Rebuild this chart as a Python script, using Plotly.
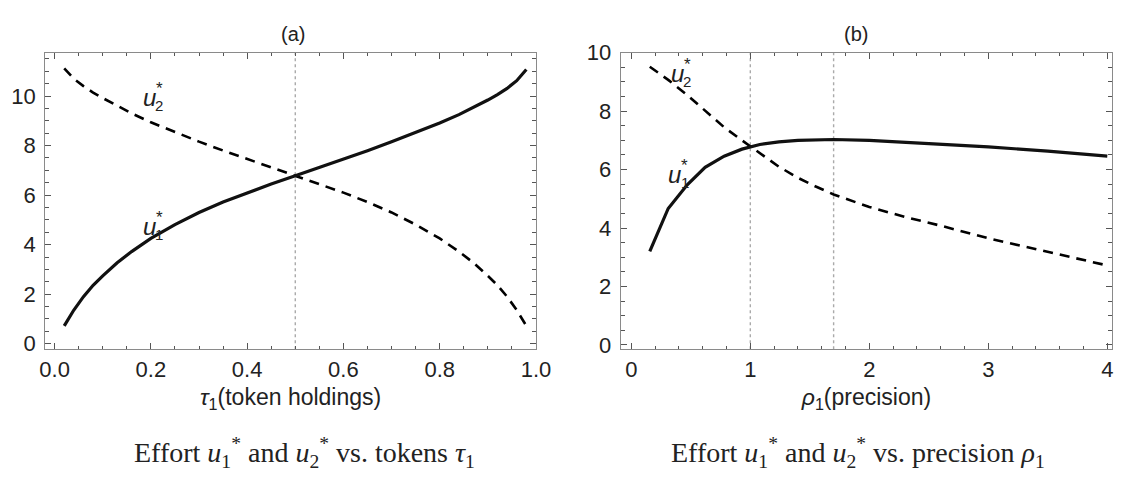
import plotly.graph_objects as go

# ---------------- data ----------------
tau = [0.02, 0.04, 0.06, 0.08, 0.10, 0.13, 0.16, 0.20, 0.25, 0.30, 0.35, 0.40, 0.45,
       0.50, 0.55, 0.60, 0.65, 0.70, 0.75, 0.80, 0.84, 0.87, 0.90, 0.92, 0.94, 0.96, 0.98]
u1_tau = [0.72, 1.36, 1.90, 2.36, 2.74, 3.27, 3.72, 4.25, 4.81, 5.30, 5.72, 6.10, 6.45,
          6.78, 7.11, 7.45, 7.79, 8.15, 8.52, 8.91, 9.25, 9.53, 9.84, 10.06, 10.31, 10.62, 11.07]
u2_tau = [11.12, 10.70, 10.40, 10.14, 9.92, 9.60, 9.30, 8.94, 8.54, 8.16, 7.80, 7.46, 7.12,
          6.78, 6.45, 6.10, 5.72, 5.30, 4.81, 4.25, 3.72, 3.27, 2.74, 2.36, 1.90, 1.36, 0.72]

rho = [0.155, 0.31, 0.47, 0.62, 0.78, 0.93, 1.08, 1.24, 1.40, 1.55, 1.70, 2.0, 2.3, 2.6, 3.0, 3.5, 4.0]
u1_rho = [3.20, 4.67, 5.48, 6.08, 6.46, 6.70, 6.86, 6.95, 7.00, 7.02, 7.03, 7.00, 6.94, 6.88, 6.78, 6.63, 6.46]
u2_rho = [9.52, 9.07, 8.55, 8.02, 7.45, 7.00, 6.55, 6.10, 5.72, 5.42, 5.15, 4.72, 4.38, 4.08, 3.65, 3.18, 2.72]

vlines_a = [0.5]
vlines_b = [1.0, 1.7]

xticks_a = [0.0, 0.2, 0.4, 0.6, 0.8, 1.0]
xticklabels_a = ["0.0", "0.2", "0.4", "0.6", "0.8", "1.0"]
yticks_a = [0, 2, 4, 6, 8, 10]
xticks_b = [0, 1, 2, 3, 4]
yticks_b = [0, 2, 4, 6, 8, 10]

panel_titles = ["(a)", "(b)"]
xtitles = ["<i>τ</i><sub>1</sub>(token holdings)", "<i>ρ</i><sub>1</sub>(precision)"]
captions = ["Effort <i>u</i><sub>1</sub><sup>*</sup> and <i>u</i><sub>2</sub><sup>*</sup> vs. tokens <i>τ</i><sub>1</sub>",
            "Effort <i>u</i><sub>1</sub><sup>*</sup> and <i>u</i><sub>2</sub><sup>*</sup> vs. precision <i>ρ</i><sub>1</sub>"]

# curve label anchors (data coords): (panel, x, y, subscript)
curve_labels = [("a", 0.197, 9.94, "2"), ("a", 0.197, 4.75, "1"),
                ("b", 0.385, 9.30, "2"), ("b", 0.367, 5.82, "1")]

# ---------------- figure ----------------
fig = go.Figure()
SANS = "Liberation Sans, Arial, sans-serif"
SERIF = "Liberation Serif, Times New Roman, serif"

fig.add_trace(go.Scatter(x=tau, y=u2_tau, mode="lines", xaxis="x", yaxis="y",
                         line=dict(color="black", width=2.6, dash="10px,7px"), showlegend=False))
fig.add_trace(go.Scatter(x=tau, y=u1_tau, mode="lines", xaxis="x", yaxis="y",
                         line=dict(color="#111", width=3.2), showlegend=False))
fig.add_trace(go.Scatter(x=rho, y=u2_rho, mode="lines", xaxis="x2", yaxis="y2",
                         line=dict(color="black", width=2.6, dash="10px,7px"), showlegend=False))
fig.add_trace(go.Scatter(x=rho, y=u1_rho, mode="lines", xaxis="x2", yaxis="y2",
                         line=dict(color="#111", width=3.2), showlegend=False))

for xv in vlines_a:
    fig.add_shape(type="line", xref="x", yref="y domain", x0=xv, x1=xv, y0=0, y1=1.01,
                  line=dict(color="#aaaaaa", width=1.4, dash="dot"), layer="below")
for xv in vlines_b:
    fig.add_shape(type="line", xref="x2", yref="y2 domain", x0=xv, x1=xv, y0=0, y1=1.01,
                  line=dict(color="#aaaaaa", width=1.4, dash="dot"), layer="below")

W, H = 1130, 477
ydom = [(H - 352) / H, (H - 42.5) / H]

common = dict(showgrid=False, zeroline=False, showline=True, linecolor="#8a8a8a", linewidth=1.4,
              mirror="ticks", ticks="inside", ticklen=6, tickwidth=1.2, tickcolor="#555",
              tickfont=dict(family=SANS, size=22, color="#222"))

fig.update_layout(
    width=W, height=H, margin=dict(l=0, r=0, t=0, b=0),
    plot_bgcolor="white", paper_bgcolor="white",
    xaxis=dict(domain=[40 / W, 540 / W], range=[-0.0194, 1.0], tickvals=xticks_a, ticktext=xticklabels_a,
               minor=dict(dtick=0.05, tick0=0, ticklen=3.5, tickcolor="#555", ticks="inside"),
               title=dict(text=xtitles[0], font=dict(family=SANS, size=23, color="#222"), standoff=8),
               anchor="y", **common),
    yaxis=dict(domain=ydom, range=[-0.224, 11.75], tickvals=yticks_a,
               minor=dict(dtick=0.5, tick0=0, ticklen=3.5, tickcolor="#555", ticks="inside"),
               ticklabelstandoff=4, anchor="x", **common),
    xaxis2=dict(domain=[626.5 / W, 1127 / W], range=[-0.088, 4.04], tickvals=xticks_b,
                minor=dict(dtick=0.2, tick0=0, ticklen=3.5, tickcolor="#555", ticks="inside"),
                title=dict(text=xtitles[1], font=dict(family=SANS, size=23, color="#222"), standoff=8),
                anchor="y2", **common),
    yaxis2=dict(domain=ydom, range=[-0.148, 10.0], tickvals=yticks_b,
                minor=dict(dtick=0.5, tick0=0, ticklen=3.5, tickcolor="#555", ticks="inside"),
                ticklabelstandoff=4, anchor="x2", **common),
)

# panel titles
for txt, cx in zip(panel_titles, [292.5, 866]):
    fig.add_annotation(text=txt, xref="paper", yref="paper", x=cx / W, y=1 - 22.5 / H,
                       showarrow=False, xanchor="center", yanchor="middle",
                       font=dict(family=SANS, size=20, color="#222"))

# captions
for txt, cx in zip(captions, [304, 868]):
    fig.add_annotation(text=txt, xref="paper", yref="paper", x=cx / W, y=1 - 460 / H,
                       showarrow=False, xanchor="center", yanchor="middle",
                       font=dict(family=SERIF, size=28, color="#222"))

# curve labels u*_i (u with stacked sub/superscript)
for panel, lx, ly, sub in curve_labels:
    xr, yr = ("x", "y") if panel == "a" else ("x2", "y2")
    fig.add_annotation(text="<i>u</i>", x=lx, y=ly, xref=xr, yref=yr, showarrow=False,
                       xanchor="center", yanchor="middle", font=dict(family=SANS, size=24, color="#222"))
    fig.add_annotation(text=sub, x=lx, y=ly, xref=xr, yref=yr, showarrow=False, xshift=10, yshift=-8,
                       xanchor="center", yanchor="middle", font=dict(family=SANS, size=15, color="#222"))
    fig.add_annotation(text="*", x=lx, y=ly, xref=xr, yref=yr, showarrow=False, xshift=10, yshift=9,
                       xanchor="center", yanchor="middle", font=dict(family=SANS, size=17, color="#222"))

fig.write_html("out.html", config={"displayModeBar": False},
               post_script="document.body.style.margin='0';document.body.style.overflow='hidden';")
